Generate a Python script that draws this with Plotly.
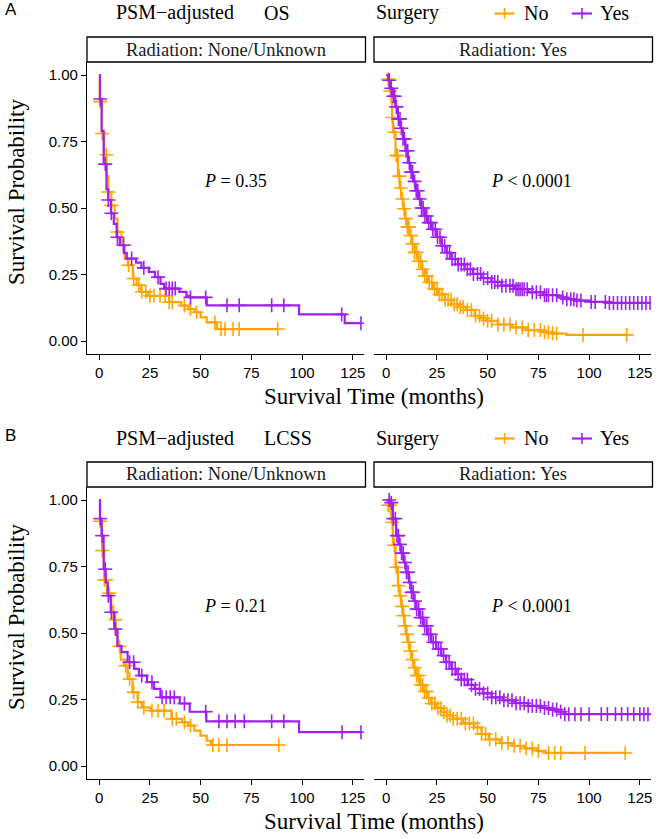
import numpy as np
import plotly.graph_objects as go

W, H = 659, 839
ORANGE = "#FFA500"
PURPLE = "#A020F0"
SERIF = "Liberation Serif, Times New Roman, serif"
SANS = "Liberation Sans, Arial, sans-serif"

# ---------------- data ----------------
panel_labels = ["A", "B"]
endpoints = ["OS", "LCSS"]
strata = ["No", "Yes"]
facets = ["Radiation: None/Unknown", "Radiation: Yes"]
p_values = [["P = 0.35", "P < 0.0001"], ["P = 0.21", "P < 0.0001"]]
x_ticks = [0, 25, 50, 75, 100, 125]
y_ticks = [0.0, 0.25, 0.5, 0.75, 1.0]

# OS, Radiation None/Unknown
os_none_no_t = [0, 0.3, 1.4, 2.5, 3.6, 4.5, 6, 7.6, 9, 11, 12.6, 14.2, 16.6, 18.5, 20.5, 24, 34.5, 40.5, 44, 47, 50, 53, 58, 88]
os_none_no_s = [1.0, 0.90, 0.78, 0.70, 0.62, 0.56, 0.51, 0.46, 0.41, 0.36, 0.31, 0.285, 0.235, 0.21, 0.185, 0.17, 0.146, 0.133, 0.12, 0.108, 0.089, 0.07, 0.045, 0.045]
os_none_no_c = [0.5, 1.5, 3.5, 4.5, 6, 9, 12, 14.5, 17, 19.5, 21, 23, 25, 27, 30, 32.5, 34.5, 36, 42, 45, 48, 57, 60, 62, 66, 69, 88]
os_none_yes_t = [0, 0.4, 1.2, 2.2, 3.6, 4.5, 5.8, 7.2, 8.6, 10.2, 12.2, 13.6, 18.2, 20.8, 24.5, 27.5, 30.2, 32, 39.5, 43, 44.6, 53, 98.5, 121, 129]
os_none_yes_s = [1.0, 0.91, 0.79, 0.665, 0.57, 0.53, 0.48, 0.44, 0.39, 0.36, 0.33, 0.31, 0.295, 0.275, 0.26, 0.24, 0.215, 0.197, 0.185, 0.17, 0.164, 0.134, 0.10, 0.067, 0.067]
os_none_yes_c = [0.5, 3, 4.5, 6, 9, 12, 16, 22, 29, 33, 34.5, 36, 37.5, 45, 52.5, 63, 69, 85, 91, 119.5, 129]

# OS, Radiation Yes
os_rad_no_t = [0, 0.8, 1.6, 2.5, 2.9, 3.3, 4.6, 5.8, 6.6, 7.4, 8.4, 9.4, 10.5, 11.5, 12.8, 14, 15.6, 17.3, 19, 20.6, 23, 25.5, 28.9, 32.1, 35.5, 39.2, 43.6, 46.5, 49.6, 55, 62, 69, 76.4, 82, 88.9, 118.5]
os_rad_no_s = [1.0, 0.985, 0.94, 0.898, 0.84, 0.785, 0.697, 0.62, 0.575, 0.534, 0.497, 0.46, 0.428, 0.396, 0.365, 0.333, 0.30, 0.27, 0.245, 0.22, 0.195, 0.175, 0.155, 0.138, 0.128, 0.117, 0.095, 0.085, 0.076, 0.062, 0.051, 0.041, 0.033, 0.028, 0.023, 0.023]
os_rad_no_c = [1, 2, 3, 4, 5, 5.6, 6.5, 7.2, 8, 8.8, 9.7, 10.5, 11.3, 12.2, 13, 14, 15, 16, 17, 18, 19, 20, 21.2, 22.5, 23.8, 25, 26.3, 27.5, 29, 30.5, 32, 33.5, 35, 36.5, 38, 40, 42, 44, 46, 48, 50, 52, 55, 58, 61, 64, 67, 70, 73, 76, 78, 80, 82, 84, 97, 118.5]
os_rad_yes_t = [0, 1, 2, 3.3, 4.5, 5.8, 7, 8.2, 9.5, 10.7, 12, 13.2, 14.5, 15.7, 17.3, 18.9, 20.5, 22.2, 24.7, 27.2, 29.7, 32.1, 35.4, 38.7, 42.8, 46.9, 51.8, 56.8, 63.4, 70, 77.4, 84.8, 89, 93, 101, 109.5, 131]
os_rad_yes_s = [1.0, 0.98, 0.95, 0.92, 0.88, 0.835, 0.8, 0.76, 0.715, 0.67, 0.635, 0.60, 0.565, 0.534, 0.50, 0.47, 0.445, 0.42, 0.39, 0.358, 0.332, 0.308, 0.288, 0.27, 0.252, 0.236, 0.222, 0.208, 0.195, 0.183, 0.172, 0.164, 0.157, 0.152, 0.147, 0.143, 0.143]
os_rad_yes_c = [1.5, 2.5, 3.5, 4.2, 5, 6, 6.8, 7.5, 8.3, 9, 9.8, 10.6, 11.4, 12.3, 13, 14, 14.8, 15.6, 16.5, 17.4, 18.2, 19.1, 20, 21, 22, 23, 24.2, 25.3, 26.5, 27.6, 28.8, 30, 31.2, 32.5, 34, 35.5, 37, 38.5, 40, 41.5, 43, 45, 46.5, 48, 50, 52, 53.5, 55, 57, 59, 61, 62.5, 64, 65, 66, 67, 68, 69.5, 72, 74, 76, 78, 79, 80, 82, 84, 87, 89, 91, 92.5, 94, 96, 101, 103, 108, 110, 112, 114, 116, 118, 120, 122, 124, 126, 128, 130]

# LCSS, Radiation None/Unknown
lc_none_no_t = [0, 0.4, 1.4, 2.5, 4, 6, 7, 8.2, 9, 10.6, 12.3, 14, 16.4, 19, 21, 25.3, 35.6, 40.7, 43.8, 46.9, 49.9, 53, 55, 88.5]
lc_none_no_s = [1.0, 0.92, 0.81, 0.70, 0.65, 0.60, 0.55, 0.50, 0.45, 0.40, 0.377, 0.327, 0.277, 0.24, 0.22, 0.208, 0.177, 0.164, 0.152, 0.133, 0.114, 0.095, 0.079, 0.079]
lc_none_no_c = [0.5, 1.5, 2.5, 3.5, 5, 8, 10, 13, 15, 17, 19, 22, 26, 29, 32, 36, 38, 42, 45, 56, 59, 63, 88.5]
lc_none_yes_t = [0, 0.4, 1.2, 2.2, 3.2, 4.2, 5.7, 7.4, 9, 11, 14, 17.3, 19.6, 23.6, 27, 30.2, 39.7, 44.6, 52.8, 98.5, 129]
lc_none_yes_s = [1.0, 0.93, 0.866, 0.74, 0.69, 0.64, 0.578, 0.515, 0.452, 0.428, 0.39, 0.365, 0.34, 0.315, 0.29, 0.258, 0.235, 0.204, 0.168, 0.127, 0.127]
lc_none_yes_c = [0.5, 1.5, 3, 4.5, 6, 8, 15, 17, 21, 26, 31, 33, 35, 37, 42, 52.5, 59, 63, 67, 71.5, 85, 91, 119.7, 129]

# LCSS, Radiation Yes
lc_rad_no_t = [0, 0.8, 2.5, 3.3, 4.6, 5.8, 6.6, 7.4, 8.2, 9, 9.8, 10.7, 11.5, 12.4, 13.6, 14.8, 16.4, 18.1, 20.2, 22.2, 24.7, 27.2, 30, 33, 38, 43.4, 47, 50.6, 56, 62, 68, 74.4, 78.5, 117.8]
lc_rad_no_s = [1.0, 0.98, 0.916, 0.83, 0.747, 0.678, 0.64, 0.60, 0.565, 0.527, 0.495, 0.465, 0.432, 0.40, 0.37, 0.34, 0.305, 0.28, 0.255, 0.235, 0.218, 0.203, 0.19, 0.178, 0.16, 0.145, 0.12, 0.10, 0.086, 0.076, 0.066, 0.057, 0.049, 0.049]
lc_rad_no_c = [1, 2, 3, 4, 5, 6, 7, 7.8, 8.6, 9.4, 10.2, 11, 12, 13, 14, 15, 16, 17, 18, 19, 20, 21, 22.5, 24, 25.5, 27, 28.5, 30, 31.5, 33, 35, 37, 39, 41, 43, 45, 47, 49, 51, 54, 57, 60, 63, 66, 69, 72, 75, 80, 83, 86, 98, 117.8]
lc_rad_yes_t = [0, 1.6, 3.3, 4.9, 6.2, 7.4, 8.6, 9.9, 11.2, 12.4, 13.6, 14.8, 16.4, 18.1, 20.2, 22.2, 24.7, 27.2, 29.6, 32.1, 34.5, 37, 40.3, 43.6, 47.7, 51.9, 57.6, 63.4, 70, 76.6, 80.7, 84.8, 88, 131]
lc_rad_yes_s = [1.0, 0.99, 0.93, 0.866, 0.833, 0.80, 0.765, 0.728, 0.69, 0.653, 0.62, 0.59, 0.558, 0.527, 0.495, 0.465, 0.44, 0.415, 0.39, 0.365, 0.345, 0.325, 0.305, 0.29, 0.273, 0.258, 0.247, 0.236, 0.226, 0.218, 0.212, 0.204, 0.195, 0.195]
lc_rad_yes_c = [1.5, 2.5, 3.5, 4.5, 5.3, 6, 6.8, 7.6, 8.4, 9.2, 10, 10.8, 11.6, 12.5, 13.3, 14.2, 15, 16, 17, 18, 19, 20, 21, 22, 23.2, 24.5, 25.8, 27, 28.3, 29.6, 31, 32.5, 34, 35.5, 37, 38.5, 40, 42, 44, 46, 48, 50, 52, 54, 56, 58, 60, 62, 64, 66, 68, 70, 72, 74, 76, 78, 80, 82, 84, 86, 88, 90, 93, 96, 100, 106, 109, 113, 116, 119, 122, 125, 127, 129, 131]

curves = [
    [  # A: OS
        [(os_none_no_t, os_none_no_s, os_none_no_c), (os_none_yes_t, os_none_yes_s, os_none_yes_c)],
        [(os_rad_no_t, os_rad_no_s, os_rad_no_c), (os_rad_yes_t, os_rad_yes_s, os_rad_yes_c)],
    ],
    [  # B: LCSS
        [(lc_none_no_t, lc_none_no_s, lc_none_no_c), (lc_none_yes_t, lc_none_yes_s, lc_none_yes_c)],
        [(lc_rad_no_t, lc_rad_no_s, lc_rad_no_c), (lc_rad_yes_t, lc_rad_yes_s, lc_rad_yes_c)],
    ],
]
colors = [ORANGE, PURPLE]

# ---------------- layout helpers ----------------
def fx(x):
    return x / W

def fy(y):
    return 1 - y / H

X_RANGE = [-6, 130.5]
Y_RANGE = [-0.05, 1.05]
panel_x = [(87, 364), (374, 651)]
OFF = 425
plot_top, plot_bot = 61.7, 354.3
strip_top, strip_bot = 37, 62

fig = go.Figure()
layout = dict(
    width=W, height=H, margin=dict(l=0, r=0, t=0, b=0),
    paper_bgcolor="white", plot_bgcolor="white", showlegend=False,
)
shapes = []
annotations = []

ax_i = 0
for r in range(2):
    dy = OFF * r
    for c in range(2):
        ax_i += 1
        sfx = "" if ax_i == 1 else str(ax_i)
        xa, ya = "x" + sfx, "y" + sfx
        x0, x1 = panel_x[c]
        layout["xaxis" + sfx] = dict(
            domain=[fx(x0), fx(x1)], anchor=ya, range=X_RANGE,
            showgrid=False, zeroline=False, showline=True, linecolor="black", linewidth=1.3,
            ticks="outside", ticklen=5, tickwidth=1.2, tickcolor="black",
            tickvals=x_ticks, ticktext=[str(v) for v in x_ticks],
            tickfont=dict(family=SANS, size=15, color="black"),
            ticklabeloverflow="allow",
        )
        layout["yaxis" + sfx] = dict(
            domain=[fy(plot_bot + dy), fy(plot_top + dy)], anchor=xa, range=Y_RANGE,
            showgrid=False, zeroline=False,
            showline=(c == 0), linecolor="black", linewidth=1.3,
            ticks="outside" if c == 0 else "", ticklen=5, tickwidth=1.2, tickcolor="black",
            tickvals=y_ticks if c == 0 else [], ticktext=["%.2f" % v for v in y_ticks] if c == 0 else [],
            showticklabels=(c == 0),
            tickfont=dict(family=SANS, size=15, color="black"),
        )
        for g in range(2):
            t, s, cens = curves[r][c][g]
            fig.add_trace(go.Scatter(
                x=t, y=s, xaxis=xa, yaxis=ya, mode="lines",
                line=dict(color=colors[g], width=2.2, shape="hv"),
                hoverinfo="skip", cliponaxis=True,
            ))
            ta = np.array(t)
            sa = np.array(s)
            ca = np.array(cens)
            idx = np.searchsorted(ta, ca, side="right") - 1
            for sym in ("line-ns", "line-ew"):
                fig.add_trace(go.Scatter(
                    x=ca, y=sa[idx], xaxis=xa, yaxis=ya, mode="markers",
                    marker=dict(symbol=sym, size=10, line=dict(color=colors[g], width=1.6)),
                    hoverinfo="skip",
                ))
        # strip
        shapes.append(dict(type="rect", xref="paper", yref="paper",
                           x0=fx(x0), x1=fx(x1 + 1.5), y0=fy(strip_bot + dy), y1=fy(strip_top + dy),
                           line=dict(color="black", width=1.3), fillcolor="white", layer="above"))
        annotations.append(dict(text=facets[c], xref="paper", yref="paper",
                                x=fx((x0 + x1) / 2), y=fy((strip_top + strip_bot) / 2 + dy),
                                showarrow=False, xanchor="center", yanchor="middle",
                                font=dict(family=SERIF, size=18.5, color="#1a1a1a")))
        # p value
        pv = p_values[r][c]
        annotations.append(dict(text="<i>P</i>" + pv[1:], xref=xa, yref=ya, x=50.5, y=0.60,
                                showarrow=False, xanchor="left", yanchor="middle",
                                font=dict(family=SERIF, size=18, color="black")))
    # header row
    hy = 13 + dy
    annotations.append(dict(text=panel_labels[r], xref="paper", yref="paper", x=fx(3), y=fy(hy - 3),
                            showarrow=False, xanchor="left", yanchor="middle",
                            font=dict(family=SANS, size=17, color="black")))
    annotations.append(dict(text="PSM\u2212adjusted", xref="paper", yref="paper", x=fx(114), y=fy(hy),
                            showarrow=False, xanchor="left", yanchor="middle",
                            font=dict(family=SERIF, size=20, color="black")))
    annotations.append(dict(text=endpoints[r], xref="paper", yref="paper", x=fx(262), y=fy(hy),
                            showarrow=False, xanchor="left", yanchor="middle",
                            font=dict(family=SERIF, size=20, color="black")))
    annotations.append(dict(text="Surgery", xref="paper", yref="paper", x=fx(374), y=fy(hy),
                            showarrow=False, xanchor="left", yanchor="middle",
                            font=dict(family=SERIF, size=20, color="black")))
    for g, (kx, lx) in enumerate([(504.5, 522), (582, 598)]):
        shapes.append(dict(type="line", xref="paper", yref="paper",
                           x0=fx(kx - 10), x1=fx(kx + 10), y0=fy(hy + 0.5), y1=fy(hy + 0.5),
                           line=dict(color=colors[g], width=2.2)))
        shapes.append(dict(type="line", xref="paper", yref="paper",
                           x0=fx(kx), x1=fx(kx), y0=fy(hy - 5), y1=fy(hy + 6),
                           line=dict(color=colors[g], width=1.6)))
        annotations.append(dict(text=strata[g], xref="paper", yref="paper", x=fx(lx), y=fy(hy),
                                showarrow=False, xanchor="left", yanchor="middle",
                                font=dict(family=SERIF, size=20, color="black")))
    # axis titles
    annotations.append(dict(text="Survival Probability", xref="paper", yref="paper", x=fx(16), y=fy(192 + dy),
                            showarrow=False, textangle=-90, xanchor="center", yanchor="middle",
                            font=dict(family=SERIF, size=23, color="black")))
    annotations.append(dict(text="Survival Time (months)", xref="paper", yref="paper", x=fx(374), y=fy(396 + dy),
                            showarrow=False, xanchor="center", yanchor="middle",
                            font=dict(family=SERIF, size=23, color="black")))

layout["shapes"] = shapes
layout["annotations"] = annotations
fig.update_layout(**layout)
fig.write_html("out.html", config={"displayModeBar": False},
               post_script="document.body.style.margin='0px';document.body.style.overflow='hidden';")
